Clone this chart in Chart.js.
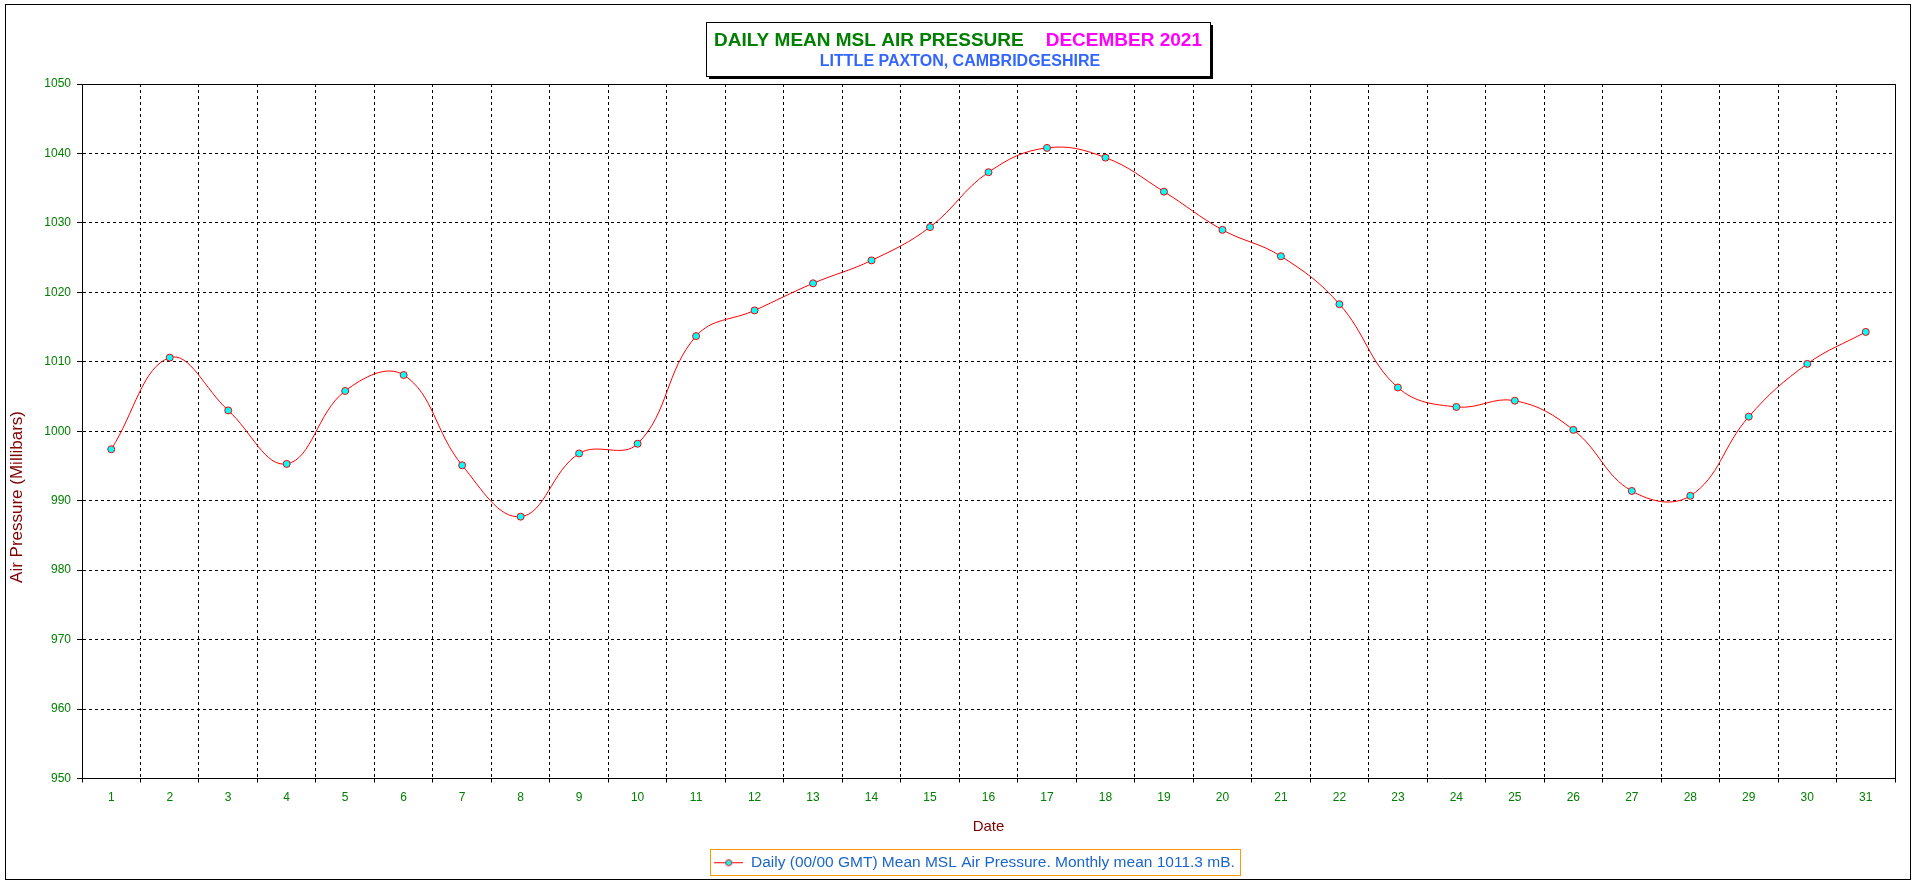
<!DOCTYPE html>
<html>
<head>
<meta charset="utf-8">
<title>Daily Mean MSL Air Pressure - December 2021</title>
<script src="https://cdn.jsdelivr.net/npm/chart.js@4.4.1/dist/chart.umd.min.js"></script>
<style>
  html, body { margin: 0; padding: 0; background: #fff; }
  #chart { display: block; }
</style>
</head>
<body>
<canvas id="chart" width="1916" height="884"></canvas>
<script>
// Days of December 2021
const days = ['1', '2', '3', '4', '5', '6', '7', '8', '9', '10', '11', '12', '13', '14', '15', '16',
              '17', '18', '19', '20', '21', '22', '23', '24', '25', '26', '27', '28', '29', '30', '31'];

// Daily (00/00 GMT) mean MSL pressure, mB
const pressure = [997.4, 1010.6, 1003.0, 995.3, 1005.8, 1008.1, 995.1, 987.7, 996.8, 998.2,
                  1013.7, 1017.4, 1021.3, 1024.6, 1029.4, 1037.3, 1040.8, 1039.4, 1034.5, 1029.0,
                  1025.2, 1018.3, 1006.3, 1003.5, 1004.4, 1000.2, 991.4, 990.7, 1002.1, 1009.7, 1014.3];

const yMin = 950;
const yMax = 1050;
const yStep = 10;

const titleMain = 'DAILY MEAN MSL AIR PRESSURE';
const titleMonth = 'DECEMBER 2021';
const titleSub = 'LITTLE PAXTON, CAMBRIDGESHIRE';
const yTitle = 'Air Pressure (Millibars)';
const seriesLabel = 'Daily (00/00 GMT) Mean MSL Air Pressure. Monthly mean 1011.3 mB.';

const FONT = 'Arial, "Liberation Sans", sans-serif';

// legend marker: red line with a cyan dot
function makeMarker() {
    const c = document.createElement('canvas');
    c.width = 29;
    c.height = 10;
    const g = c.getContext('2d');
    g.strokeStyle = '#ff0000';
    g.lineWidth = 1;
    g.beginPath();
    g.moveTo(0, 5.5);
    g.lineTo(29, 5.5);
    g.stroke();
    g.beginPath();
    g.arc(14.5, 5.5, 3, 0, Math.PI * 2);
    g.fillStyle = '#00ffff';
    g.fill();
    g.strokeStyle = '#ff0000';
    g.stroke();
    return c;
}
const marker = makeMarker();

// Outer frame, title box, y title, plot frame and legend frame
const decorations = {
    id: 'decorations',
    afterLayout(chart) {
        // the legend sits a little right of the page centre
        chart.legend.left += 24;
        chart.legend.right += 24;
    },
    beforeDraw(chart) {
        const ctx = chart.ctx;
        ctx.save();
        ctx.fillStyle = '#fff';
        ctx.fillRect(0, 0, chart.width, chart.height);
        ctx.restore();
    },
    afterDraw(chart) {
        const ctx = chart.ctx;
        const area = chart.chartArea;
        ctx.save();
        ctx.lineWidth = 1;
        ctx.strokeStyle = '#000';

        // outer border
        ctx.strokeRect(5.5, 4.5, 1905, 875);

        // top and right edges of the plot
        ctx.beginPath();
        ctx.moveTo(area.left, Math.round(area.top) + 0.5);
        ctx.lineTo(Math.round(area.right) + 0.5, Math.round(area.top) + 0.5);
        ctx.lineTo(Math.round(area.right) + 0.5, area.bottom);
        ctx.stroke();

        // title box with shadow
        const bx = 706, by = 22, bw = 504, bh = 54;
        ctx.fillStyle = '#000';
        ctx.fillRect(bx + 3, by + 3, bw, bh);
        ctx.fillStyle = '#fff';
        ctx.fillRect(bx, by, bw, bh);
        ctx.strokeRect(bx + 0.5, by + 0.5, bw, bh);

        ctx.textBaseline = 'alphabetic';
        ctx.textAlign = 'left';
        ctx.font = 'bold 19px ' + FONT;
        const w1 = ctx.measureText(titleMain).width;
        const w2 = ctx.measureText(titleMonth).width;
        const gap = 22;
        const x = 958 - (w1 + gap + w2) / 2;
        ctx.fillStyle = '#008000';
        ctx.fillText(titleMain, x, 46);
        ctx.fillStyle = '#ff00ff';
        ctx.fillText(titleMonth, x + w1 + gap, 46);

        ctx.font = 'bold 16px ' + FONT;
        ctx.textAlign = 'center';
        ctx.fillStyle = '#3366ff';
        ctx.fillText(titleSub, 960, 66);

        // y axis title
        ctx.save();
        ctx.translate(17, 497);
        ctx.rotate(-Math.PI / 2);
        ctx.font = '17px ' + FONT;
        ctx.fillStyle = '#800000';
        ctx.textAlign = 'center';
        ctx.textBaseline = 'middle';
        ctx.fillText(yTitle, 0, 0);
        ctx.restore();

        // legend frame
        const hb = chart.legend.legendHitBoxes && chart.legend.legendHitBoxes[0];
        if (hb) {
            ctx.strokeStyle = '#ff9900';
            ctx.strokeRect(Math.round(hb.left) - 3.5, Math.round(hb.top) - 5.5,
                           Math.round(hb.width) + 9, Math.round(hb.height) + 10);
        }
        ctx.restore();
    }
};

new Chart(document.getElementById('chart'), {
    type: 'line',
    data: {
        labels: days,
        datasets: [{
            label: seriesLabel,
            data: pressure,
            borderColor: '#ff0000',
            borderWidth: 1,
            backgroundColor: '#00ffff',
            pointBackgroundColor: '#00ffff',
            pointBorderColor: '#ff0000',
            pointBorderWidth: 1,
            pointRadius: 3.5,
            tension: 0.4,
            fill: false
        }]
    },
    options: {
        responsive: false,
        devicePixelRatio: 1,
        animation: false,
        layout: { padding: { left: 6, right: 21, top: 84, bottom: 4 } },
        plugins: {
            title: { display: false },
            tooltip: { enabled: false },
            legend: {
                display: true,
                position: 'bottom',
                labels: {
                    usePointStyle: true,
                    pointStyleWidth: 29,
                    padding: 10,
                    color: '#1a66cc',
                    font: { family: FONT, size: 15.5 },
                    generateLabels(chart) {
                        return Chart.defaults.plugins.legend.labels.generateLabels(chart).map(item => {
                            item.pointStyle = marker;
                            return item;
                        });
                    }
                }
            }
        },
        scales: {
            x: {
                offset: true,
                grid: {
                    offset: true,
                    color: '#000',
                    lineWidth: 1,
                    tickLength: 4,
                    tickColor: '#000',
                    tickBorderDash: []
                },
                border: { display: true, color: '#000', width: 1, dash: [3, 3] },
                ticks: {
                    color: '#008000',
                    padding: 8,
                    maxRotation: 0,
                    autoSkip: false,
                    font: { family: FONT, size: 12 }
                },
                title: {
                    display: true,
                    text: 'Date',
                    color: '#800000',
                    font: { family: FONT, size: 15 },
                    padding: { top: 0, bottom: 9 }
                },
                afterFit(scale) { scale.height = 66; }
            },
            y: {
                min: yMin,
                max: yMax,
                grid: {
                    color: '#000',
                    lineWidth: 1,
                    tickLength: 5,
                    tickColor: '#000',
                    tickBorderDash: []
                },
                border: { display: true, color: '#000', width: 1, dash: [3, 3] },
                ticks: {
                    stepSize: yStep,
                    color: '#008000',
                    padding: 6,
                    font: { family: FONT, size: 12 },
                    callback: value => String(value)
                },
                afterFit(scale) { scale.width = 76; }
            }
        }
    },
    plugins: [decorations]
});
</script>
</body>
</html>
